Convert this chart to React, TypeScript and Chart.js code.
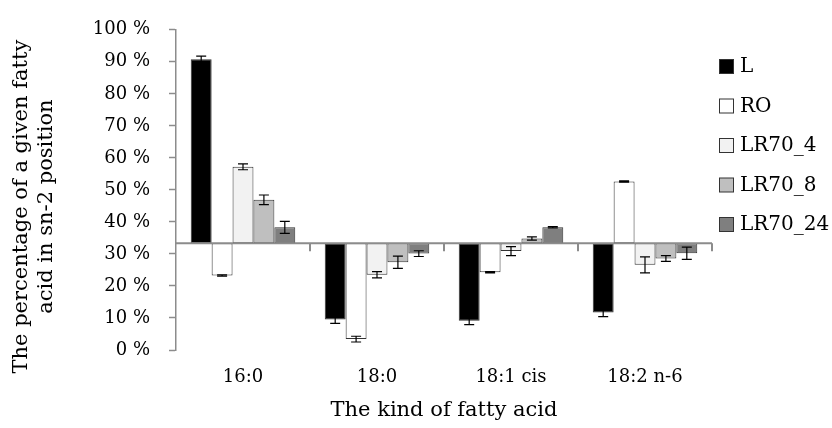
import React, { useEffect, useRef } from "react";
import { Chart, registerables } from "chart.js";

Chart.register(...registerables);

const categories = ["16:0", "18:0", "18:1 cis", "18:2 n-6"];
const seriesNames = ["L", "RO", "LR70_4", "LR70_8", "LR70_24"];
const L = [90.8, 9.5, 9.1, 11.7];
const L_err = [1.0, 1.2, 1.2, 1.3];
const RO = [23.3, 3.4, 24.3, 52.6];
const RO_err = [0.2, 0.9, 0.2, 0.2];
const LR70_4 = [57.2, 23.5, 30.9, 26.6];
const LR70_4_err = [0.9, 1.0, 1.4, 2.5];
const LR70_8 = [46.9, 27.4, 34.8, 28.6];
const LR70_8_err = [1.5, 1.9, 0.5, 0.9];
const LR70_24 = [38.3, 30.1, 38.3, 30.2];
const LR70_24_err = [1.9, 0.9, 0.2, 1.9];
const BASE = 33.3;
const yTicks = [0, 10, 20, 30, 40, 50, 60, 70, 80, 90, 100];

const fills = ["#000000", "#ffffff", "#f2f2f2", "#bfbfbf", "#7f7f7f"];
const FONT = "'DejaVu Serif', serif";
const AXIS_GRAY = "#8c8c8c";

const values = [L, RO, LR70_4, LR70_8, LR70_24];
const errors = [L_err, RO_err, LR70_4_err, LR70_8_err, LR70_24_err];

const errorBarPlugin = {
  id: "errorBars",
  afterDatasetsDraw(chart: any) {
    const { ctx } = chart;
    const y = chart.scales.y;
    const area = chart.chartArea;
    const by = y.getPixelForValue(BASE);
    const x = chart.scales.x;
    ctx.save();
    ctx.strokeStyle = AXIS_GRAY;
    ctx.lineWidth = 2;
    ctx.beginPath();
    ctx.moveTo(area.left, by);
    ctx.lineTo(area.right, by);
    const catW = (area.right - area.left) / categories.length;
    for (let i = 1; i <= categories.length; i++) {
      const px = x.getPixelForValue(i - 1) + catW / 2;
      ctx.moveTo(px, by);
      ctx.lineTo(px, by + 8);
    }
    ctx.stroke();
    ctx.restore();

    ctx.save();
    ctx.strokeStyle = "#000000";
    ctx.lineWidth = 1.2;
    chart.data.datasets.forEach((ds: any, di: number) => {
      const meta = chart.getDatasetMeta(di);
      meta.data.forEach((bar: any, i: number) => {
        const v = values[di][i];
        const e = errors[di][i];
        const cx = bar.x;
        const y1 = y.getPixelForValue(v - e);
        const y2 = y.getPixelForValue(v + e);
        const half = 5;
        ctx.beginPath();
        ctx.moveTo(cx, y1);
        ctx.lineTo(cx, y2);
        ctx.moveTo(cx - half, y1);
        ctx.lineTo(cx + half, y1);
        ctx.moveTo(cx - half, y2);
        ctx.lineTo(cx + half, y2);
        ctx.stroke();
      });
    });
    ctx.restore();
  },
};

const legendPlugin = {
  id: "sideLegend",
  afterDraw(chart: any) {
    const { ctx } = chart;
    ctx.save();
    ctx.font = `20px ${FONT}`;
    ctx.textBaseline = "middle";
    ctx.textAlign = "left";
    chart.data.datasets.forEach((ds: any, i: number) => {
      const cy = 66 + i * 39.5;
      ctx.fillStyle = ds.backgroundColor;
      ctx.fillRect(719.5, cy - 6.5, 14, 14);
      ctx.strokeStyle = "#333333";
      ctx.lineWidth = 1;
      ctx.strokeRect(719.5, cy - 6.5, 14, 14);
      ctx.fillStyle = "#000000";
      ctx.fillText(ds.label, 740, cy + 1);
    });
    ctx.restore();
  },
};

export default function App() {
  const ref = useRef<HTMLCanvasElement | null>(null);
  useEffect(() => {
    document.body.style.margin = "0";
    const chart = new Chart(ref.current as HTMLCanvasElement, {
      type: "bar",
      data: {
        labels: categories,
        datasets: seriesNames.map((name, i) => ({
          label: name,
          data: values[i],
          base: BASE,
          backgroundColor: fills[i],
          borderColor: "#333333",
          borderWidth: 1,
          borderSkipped: false,
          categoryPercentage: 0.78,
          barPercentage: 1,
        })),
      } as any,
      options: {
        animation: false,
        responsive: false,
        layout: { padding: { top: 27, right: 120, left: 0, bottom: 0 } },
        plugins: {
          legend: { display: false },
          tooltip: { enabled: false },
        },
        scales: {
          x: {
            grid: { display: false, drawTicks: false },
            border: { display: false },
            ticks: { color: "#000", font: { family: FONT, size: 18 }, padding: 17 },
            title: {
              display: true,
              text: "The kind of fatty acid",
              color: "#000",
              font: { family: FONT, size: 21, lineHeight: 1.25 },
              padding: { top: 0, bottom: 4 },
            },
            afterFit(scale: any) {
              scale.height = 78;
            },
          },
          y: {
            min: 0,
            max: 100,
            afterBuildTicks(scale: any) {
              scale.ticks = yTicks.map((v) => ({ value: v }));
            },
            grid: {
              drawOnChartArea: false,
              drawTicks: true,
              tickLength: 7,
              tickColor: AXIS_GRAY,
              tickWidth: 1.5,
            },
            border: { display: true, color: AXIS_GRAY, width: 1.5 },
            ticks: {
              color: "#000",
              font: { family: FONT, size: 18 },
              padding: 19,
              callback: (v: any) => `${v} %`,
            },
            title: {
              display: true,
              text: ["The percentage of a given fatty     ", "acid in sn-2 position     "],
              color: "#000",
              font: { family: FONT, size: 21, lineHeight: 1.2 },
              padding: { top: 9, bottom: 0 },
            },
            afterFit(scale: any) {
              scale.width = 176;
            },
          },
        },
      } as any,
      plugins: [errorBarPlugin, legendPlugin],
    });
    return () => chart.destroy();
  }, []);
  return (
    <div style={{ width: 832, height: 428 }}>
      <canvas ref={ref} width={832} height={428} style={{ display: "block" }} />
    </div>
  );
}
